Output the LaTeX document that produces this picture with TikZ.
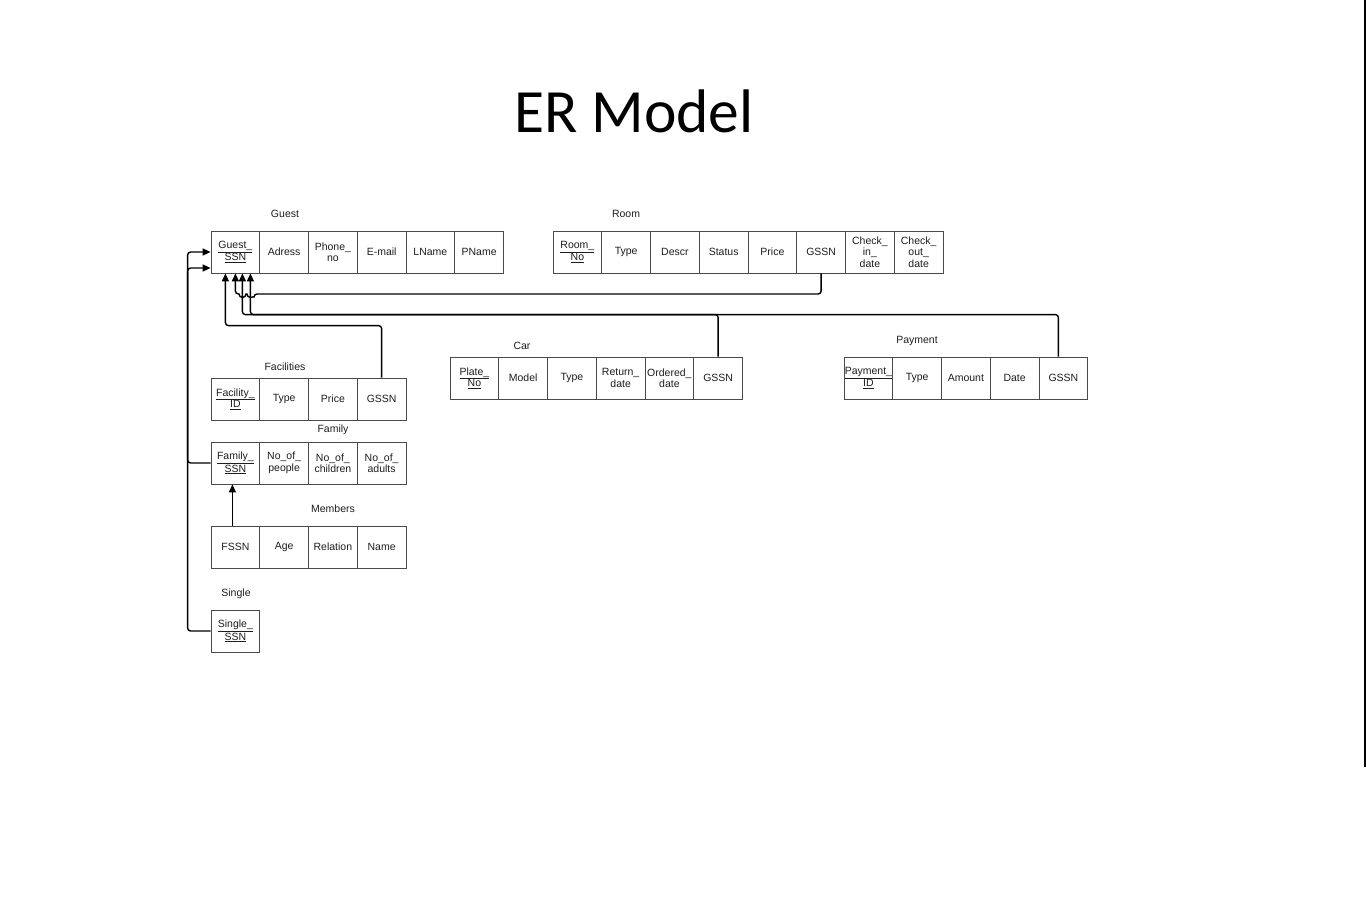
\documentclass[tikz,border=0pt]{standalone}
\usepackage{fontspec}
\setmainfont{Liberation Sans}
\newfontfamily\titlefont{Carlito}
\usetikzlibrary{arrows.meta}
\definecolor{cellc}{HTML}{4A4A4A}
\definecolor{txtc}{HTML}{1E1E1E}
\tikzset{
  cell/.style={draw=cellc, line width=0.8pt, minimum width=48.75pt, minimum height=42pt,
    inner sep=0pt, align=center, text=txtc, font=\fontsize{10.5}{11.5}\selectfont},
  tlabel/.style={text=txtc, font=\fontsize{10.5}{12}\selectfont},
  conn/.style={draw=black, line width=1.4pt, rounded corners=3pt},
  arr/.style={-{Triangle[length=8pt,width=7pt]}}
}
\newcommand{\ul}[1]{\underline{#1}}
\begin{document}
\begin{tikzpicture}[x=1pt,y=-1pt]
\useasboundingbox (0,0) rectangle (1366,904);
\fill[white] (0,0) rectangle (1366,904);
\node[anchor=base, font=\titlefont\fontsize{61.5}{70}\selectfont] (title) at (634,133) {ER Model};
\draw[line width=2pt] (1365,0) -- (1365,767);

% Guest
\node[tlabel] (lguest) at (285,214) {Guest};
\node[cell] (g1) at (235.4,252) {\ul{Guest\_}\\\ul{SSN}};
\node[cell] (g2) at (284.15,252) {Adress};
\node[cell] (g3) at (332.9,252) {Phone\_\\no};
\node[cell] (g4) at (381.65,252) {E-mail};
\node[cell] (g5) at (430.4,252) {LName};
\node[cell] (g6) at (479.15,252) {PName};

% Room
\node[tlabel] (lroom) at (626,214) {Room};
\node[cell] (r1) at (577.4,252) {\ul{Room\_}\\\ul{No}};
\node[cell] (r2) at (626.15,252) {Type};
\node[cell] (r3) at (674.9,252) {Descr};
\node[cell] (r4) at (723.65,252) {Status};
\node[cell] (r5) at (772.4,252) {Price};
\node[cell] (r6) at (821.15,252) {GSSN};
\node[cell] (r7) at (869.9,252) {Check\_\\in\_\\date};
\node[cell] (r8) at (918.65,252) {Check\_\\out\_\\date};

% Car
\node[tlabel] (lcar) at (522,346) {Car};
\node[cell] (c1) at (474.4,378) {\ul{Plate\_}\\\ul{No}};
\node[cell] (c2) at (523.15,378) {Model};
\node[cell] (c3) at (571.9,378) {Type};
\node[cell] (c4) at (620.65,378) {Return\_\\date};
\node[cell] (c5) at (669.4,378) {Ordered\_\\date};
\node[cell] (c6) at (718.15,378) {GSSN};

% Payment
\node[tlabel] (lpay) at (917,341) {Payment};
\node[cell] (p1) at (868.4,378) {\ul{Payment\_}\\\ul{ID}};
\node[cell] (p2) at (917.15,378) {Type};
\node[cell] (p3) at (965.9,378) {Amount};
\node[cell] (p4) at (1014.65,378) {Date};
\node[cell] (p5) at (1063.4,378) {GSSN};

% Facilities
\node[tlabel] (lfac) at (285,367) {Facilities};
\node[cell] (f1) at (235.4,399) {\ul{Facility\_}\\\ul{ID}};
\node[cell] (f2) at (284.15,399) {Type};
\node[cell] (f3) at (332.9,399) {Price};
\node[cell] (f4) at (381.65,399) {GSSN};

% Family
\node[tlabel] (lfam) at (333,430) {Family};
\node[cell] (fa1) at (235.4,463) {\ul{Family\_}\\\ul{SSN}};
\node[cell] (fa2) at (284.15,463) {No\_of\_\\people};
\node[cell] (fa3) at (332.9,463) {No\_of\_\\children};
\node[cell] (fa4) at (381.65,463) {No\_of\_\\adults};

% Members
\node[tlabel] (lmem) at (333,509) {Members};
\node[cell] (m1) at (235.4,547) {FSSN};
\node[cell] (m2) at (284.15,547) {Age};
\node[cell] (m3) at (332.9,547) {Relation};
\node[cell] (m4) at (381.65,547) {Name};

% Single
\node[tlabel] (lsin) at (236,594) {Single};
\node[cell] (s1) at (235.4,631) {\ul{Single\_}\\\ul{SSN}};

% Connectors
\draw[conn,arr] (s1.west) -- ++(-23,0) |- (g1.west);
\draw[conn,arr] (fa1.west) -- ++(-23,0) |- ([yshift=-16pt]g1.west);
\draw[conn,arr] ([xshift=-3pt]m1.north) -- ([xshift=-3pt]fa1.south);
\draw[conn,arr] (f4.north) -- ++(0,-52) -| ([xshift=-10pt]g1.south);
\draw[conn,arr] (c6.north) -- ++(0,-42) -| ([xshift=7pt]g1.south);
\draw[conn,arr] ([xshift=-5pt]p5.north) -- ++(0,-42) -| ([xshift=15pt]g1.south);
\draw[draw=black, line width=1.4pt, arr] (r6.south) [rounded corners=3pt] |- (254,294) [sharp corners]
  arc[start angle=0,end angle=-180,radius=3.5pt] -- (246,294)
  arc[start angle=0,end angle=-180,radius=3.5pt] -- (238.4,294) [rounded corners=3pt] -- (235.4,294) -- (g1.south);
\end{tikzpicture}
\end{document}
